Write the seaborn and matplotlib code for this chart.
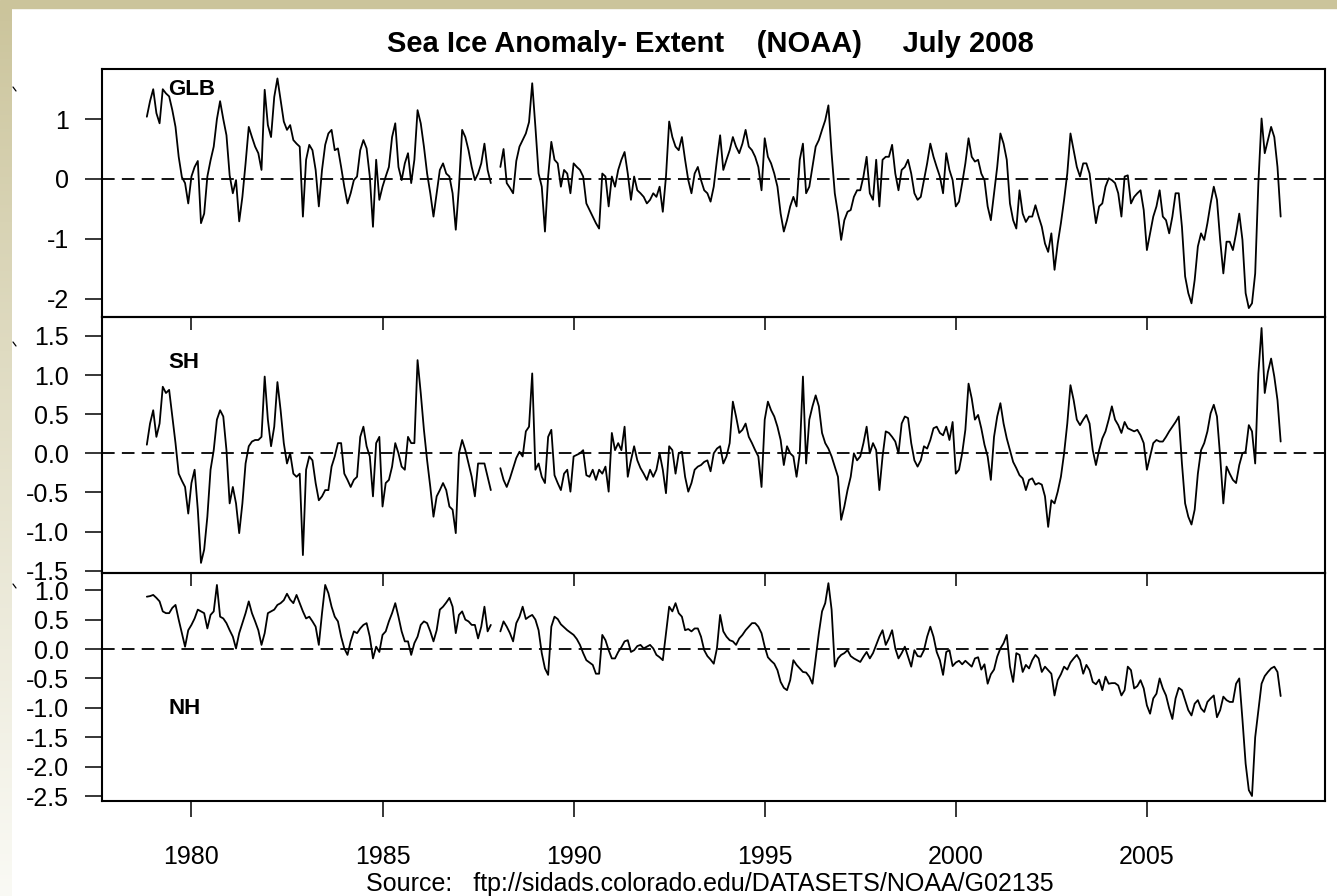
"""
Sea ice extent anomalies (NOAA), global / southern / northern hemisphere,
three stacked panels sharing one time axis.
"""

import numpy as np
import pandas as pd
import matplotlib
matplotlib.use("Agg")
import matplotlib.pyplot as plt
import seaborn as sns
from matplotlib.lines import Line2D
from matplotlib.patches import Rectangle

nan = np.nan

# monthly series start in Nov 1978, Dec 1987 / Jan 1988 missing
START_YEAR, START_MONTH = 1978, 11

GLB = [
    1.04, 1.30,
    1.50, 1.10, 0.93, 1.50, 1.43, 1.38, 1.15, 0.87, 0.37, 0.03, -0.07, -0.41,
    0.04, 0.20, 0.30, -0.74, -0.58, 0.04, 0.31, 0.54, 1.00, 1.30, 1.00, 0.73,
    0.06, -0.24, -0.02, -0.71, -0.30, 0.26, 0.87, 0.70, 0.54, 0.43, 0.15, 1.49,
    0.90, 0.70, 1.37, 1.68, 1.32, 0.96, 0.82, 0.90, 0.65, 0.59, 0.54, -0.63,
    0.32, 0.57, 0.48, 0.15, -0.46, 0.15, 0.57, 0.76, 0.82, 0.48, 0.51, 0.20,
    -0.13, -0.41, -0.24, -0.02, 0.04, 0.48, 0.65, 0.51, 0.04, -0.80, 0.32, -0.35,
    -0.13, 0.04, 0.20, 0.70, 0.93, 0.20, -0.02, 0.26, 0.43, -0.07, 0.32, 1.15,
    0.93, 0.54, 0.09, -0.24, -0.63, -0.24, 0.15, 0.26, 0.09, 0.04, -0.24, -0.85,
    -0.13, 0.82, 0.70, 0.48, 0.20, -0.02, 0.09, 0.26, 0.59, 0.15, -0.07, nan,
    nan, 0.20, 0.50, -0.07, -0.15, -0.24, 0.30, 0.54, 0.65, 0.76, 0.95, 1.60,
    0.87, 0.09, -0.13, -0.88, 0.04, 0.62, 0.32, 0.26, -0.13, 0.15, 0.09, -0.24,
    0.26, 0.20, 0.15, 0.04, -0.41, -0.52, -0.63, -0.74, -0.83, 0.09, 0.04, -0.46,
    0.04, -0.13, 0.15, 0.32, 0.45, 0.09, -0.35, 0.04, -0.19, -0.24, -0.30, -0.41,
    -0.35, -0.24, -0.30, -0.13, -0.55, 0.04, 0.96, 0.70, 0.54, 0.48, 0.70, 0.32,
    -0.02, -0.24, 0.09, 0.20, -0.02, -0.19, -0.24, -0.38, -0.13, 0.32, 0.73, 0.15,
    0.32, 0.48, 0.70, 0.54, 0.43, 0.59, 0.82, 0.54, 0.48, 0.37, 0.20, -0.19,
    0.68, 0.37, 0.26, 0.09, -0.13, -0.58, -0.88, -0.69, -0.46, -0.30, -0.46, 0.32,
    0.59, -0.24, -0.13, 0.20, 0.54, 0.65, 0.82, 0.98, 1.23, 0.43, -0.24, -0.58,
    -1.02, -0.69, -0.55, -0.52, -0.30, -0.19, -0.19, 0.04, 0.37, -0.24, -0.35, 0.32,
    -0.46, 0.32, 0.37, 0.37, 0.57, 0.09, -0.19, 0.15, 0.20, 0.32, 0.09, -0.24,
    -0.35, -0.30, -0.02, 0.26, 0.59, 0.37, 0.20, 0.04, -0.24, 0.43, 0.15, -0.02,
    -0.46, -0.38, -0.07, 0.26, 0.68, 0.37, 0.29, 0.32, 0.09, -0.02, -0.46, -0.69,
    -0.24, 0.20, 0.76, 0.59, 0.32, -0.41, -0.69, -0.83, -0.19, -0.58, -0.72, -0.63,
    -0.63, -0.44, -0.63, -0.80, -1.08, -1.22, -0.91, -1.52, -1.08, -0.74, -0.35, 0.09,
    0.76, 0.48, 0.20, 0.04, 0.26, 0.26, 0.09, -0.35, -0.74, -0.46, -0.41, -0.13,
    0.01, -0.02, -0.07, -0.24, -0.63, 0.04, 0.06, -0.41, -0.30, -0.24, -0.19, -0.52,
    -1.19, -0.91, -0.63, -0.46, -0.19, -0.63, -0.69, -0.91, -0.63, -0.24, -0.24, -0.80,
    -1.63, -1.91, -2.08, -1.69, -1.13, -0.91, -1.02, -0.74, -0.41, -0.13, -0.35, -1.02,
    -1.58, -1.05, -1.05, -1.19, -0.91, -0.58, -1.02, -1.91, -2.16, -2.08, -1.58, -0.07,
    1.01, 0.43, 0.65, 0.87, 0.70, 0.20, -0.63,
]

SH = [
    0.11, 0.38,
    0.55, 0.21, 0.38, 0.85, 0.77, 0.81, 0.47, 0.13, -0.26, -0.35, -0.43, -0.77,
    -0.38, -0.21, -0.72, -1.40, -1.23, -0.81, -0.21, 0.04, 0.43, 0.55, 0.47, 0.04,
    -0.64, -0.43, -0.64, -1.02, -0.64, -0.13, 0.09, 0.15, 0.17, 0.17, 0.21, 0.98,
    0.43, 0.09, 0.34, 0.91, 0.55, 0.13, -0.13, 0.00, -0.26, -0.30, -0.26, -1.30,
    -0.21, -0.04, -0.09, -0.38, -0.60, -0.55, -0.47, -0.47, -0.17, -0.04, 0.13, 0.13,
    -0.26, -0.34, -0.43, -0.34, -0.30, 0.21, 0.34, 0.09, -0.04, -0.55, 0.13, 0.21,
    -0.68, -0.38, -0.34, -0.17, 0.13, 0.00, -0.17, -0.21, 0.21, 0.13, 0.13, 1.19,
    0.77, 0.30, -0.09, -0.43, -0.81, -0.55, -0.47, -0.38, -0.47, -0.68, -0.72, -1.02,
    0.00, 0.17, 0.04, -0.13, -0.30, -0.55, -0.13, -0.13, -0.13, -0.30, -0.47, nan,
    nan, -0.19, -0.34, -0.43, -0.32, -0.19, -0.06, 0.02, -0.04, 0.28, 0.34, 1.02,
    -0.21, -0.13, -0.30, -0.38, 0.21, 0.30, -0.28, -0.38, -0.47, -0.26, -0.21, -0.49,
    -0.04, -0.02, 0.00, 0.04, -0.28, -0.30, -0.21, -0.34, -0.21, -0.26, -0.17, -0.49,
    0.26, 0.04, 0.13, 0.04, 0.34, -0.30, -0.09, 0.09, -0.09, -0.19, -0.26, -0.34,
    -0.21, -0.30, -0.21, 0.00, -0.21, -0.51, 0.09, 0.04, -0.26, 0.00, 0.02, -0.30,
    -0.49, -0.38, -0.21, -0.17, -0.15, -0.11, -0.09, -0.23, 0.00, 0.06, 0.09, -0.13,
    -0.04, 0.13, 0.66, 0.47, 0.26, 0.30, 0.38, 0.21, 0.13, 0.04, -0.04, -0.43,
    0.43, 0.66, 0.55, 0.47, 0.34, 0.17, -0.15, 0.09, 0.00, -0.04, -0.30, 0.00,
    0.98, -0.13, 0.43, 0.60, 0.74, 0.60, 0.26, 0.13, 0.06, -0.04, -0.17, -0.30,
    -0.85, -0.68, -0.47, -0.30, 0.00, -0.09, -0.04, 0.13, 0.34, 0.00, 0.13, 0.04,
    -0.47, -0.04, 0.28, 0.26, 0.21, 0.15, 0.00, 0.38, 0.47, 0.45, 0.13, -0.09,
    -0.17, -0.09, 0.09, 0.06, 0.17, 0.32, 0.34, 0.26, 0.23, 0.34, 0.17, 0.40,
    -0.26, -0.21, 0.00, 0.30, 0.89, 0.70, 0.43, 0.49, 0.32, 0.11, -0.04, -0.34,
    0.21, 0.47, 0.64, 0.38, 0.19, 0.04, -0.11, -0.19, -0.28, -0.32, -0.47, -0.34,
    -0.32, -0.40, -0.38, -0.40, -0.55, -0.94, -0.60, -0.64, -0.49, -0.30, 0.00, 0.38,
    0.87, 0.68, 0.43, 0.36, 0.43, 0.49, 0.38, 0.04, -0.15, 0.04, 0.19, 0.28,
    0.43, 0.60, 0.43, 0.36, 0.26, 0.40, 0.32, 0.30, 0.28, 0.30, 0.23, 0.13,
    -0.21, -0.04, 0.13, 0.17, 0.15, 0.15, 0.21, 0.28, 0.34, 0.40, 0.47, -0.13,
    -0.64, -0.81, -0.91, -0.72, -0.26, 0.04, 0.13, 0.28, 0.51, 0.62, 0.47, -0.04,
    -0.64, -0.17, -0.26, -0.34, -0.38, -0.15, 0.00, 0.02, 0.36, 0.28, -0.13, 1.02,
    1.60, 0.77, 1.04, 1.21, 0.98, 0.68, 0.15,
]

NH = [
    0.89, 0.90,
    0.92, 0.87, 0.81, 0.64, 0.61, 0.61, 0.70, 0.75, 0.50, 0.27, 0.04, 0.32,
    0.41, 0.52, 0.67, 0.64, 0.61, 0.35, 0.58, 0.64, 1.09, 0.55, 0.52, 0.44,
    0.32, 0.21, 0.01, 0.27, 0.44, 0.61, 0.81, 0.61, 0.47, 0.32, 0.07, 0.27,
    0.61, 0.64, 0.67, 0.75, 0.78, 0.83, 0.94, 0.84, 0.78, 0.92, 0.78, 0.64,
    0.52, 0.55, 0.47, 0.38, 0.07, 0.61, 1.09, 0.95, 0.72, 0.55, 0.47, 0.21,
    0.01, -0.10, 0.13, 0.30, 0.27, 0.35, 0.41, 0.44, 0.21, -0.16, 0.04, -0.05,
    0.24, 0.30, 0.47, 0.61, 0.78, 0.55, 0.30, 0.13, 0.13, -0.10, 0.10, 0.21,
    0.41, 0.47, 0.44, 0.30, 0.13, 0.32, 0.67, 0.72, 0.79, 0.87, 0.72, 0.27,
    0.58, 0.64, 0.50, 0.47, 0.41, 0.41, 0.18, 0.38, 0.72, 0.30, 0.41, nan,
    nan, 0.30, 0.47, 0.38, 0.27, 0.13, 0.44, 0.55, 0.72, 0.51, 0.55, 0.58,
    0.50, 0.32, -0.07, -0.33, -0.44, 0.38, 0.55, 0.51, 0.42, 0.37, 0.32, 0.28,
    0.24, 0.17, 0.07, -0.07, -0.19, -0.23, -0.27, -0.42, -0.42, 0.24, 0.15, -0.02,
    -0.16, -0.16, -0.05, 0.03, 0.13, 0.15, -0.05, -0.02, 0.05, 0.07, 0.01, 0.04,
    0.07, 0.01, -0.10, -0.14, -0.19, 0.27, 0.72, 0.64, 0.78, 0.61, 0.55, 0.32,
    0.34, 0.30, 0.35, 0.35, 0.21, -0.02, -0.12, -0.18, -0.25, 0.01, 0.58, 0.30,
    0.21, 0.15, 0.13, 0.07, 0.18, 0.24, 0.32, 0.38, 0.44, 0.44, 0.38, 0.27,
    0.04, -0.14, -0.20, -0.25, -0.36, -0.56, -0.66, -0.70, -0.53, -0.19, -0.27, -0.33,
    -0.39, -0.40, -0.47, -0.59, -0.16, 0.27, 0.64, 0.78, 1.12, 0.67, -0.30, -0.16,
    -0.10, -0.07, -0.02, -0.12, -0.16, -0.19, -0.22, -0.13, -0.05, -0.16, -0.07, 0.07,
    0.21, 0.32, 0.07, 0.18, 0.32, 0.01, -0.16, -0.07, 0.04, -0.13, -0.30, -0.02,
    -0.12, -0.13, -0.02, 0.21, 0.38, 0.21, -0.05, -0.19, -0.44, -0.05, -0.02, -0.29,
    -0.23, -0.20, -0.26, -0.20, -0.25, -0.30, -0.16, -0.14, -0.35, -0.26, -0.59, -0.43,
    -0.35, -0.13, 0.01, 0.10, 0.24, -0.30, -0.56, -0.07, -0.10, -0.39, -0.27, -0.33,
    -0.19, -0.10, -0.16, -0.39, -0.30, -0.36, -0.42, -0.79, -0.53, -0.43, -0.30, -0.35,
    -0.23, -0.16, -0.10, -0.19, -0.42, -0.27, -0.36, -0.56, -0.60, -0.52, -0.70, -0.47,
    -0.59, -0.58, -0.58, -0.62, -0.79, -0.70, -0.30, -0.36, -0.67, -0.63, -0.53, -0.67,
    -0.96, -1.10, -0.84, -0.76, -0.50, -0.67, -0.79, -1.01, -1.19, -0.84, -0.66, -0.70,
    -0.87, -1.04, -1.13, -0.93, -0.87, -1.01, -1.07, -0.90, -0.84, -0.79, -1.16, -1.04,
    -0.81, -0.87, -0.90, -0.90, -0.59, -0.50, -1.20, -1.95, -2.40, -2.50, -1.50, -1.05,
    -0.59, -0.46, -0.39, -0.33, -0.30, -0.39, -0.80,
]

PANEL_NAMES = ["GLB", "SH", "NH"]
SERIES = [GLB, SH, NH]
YTICKS = [
    [-2, -1, 0, 1],
    [-1.5, -1.0, -0.5, 0.0, 0.5, 1.0, 1.5],
    [-2.5, -2.0, -1.5, -1.0, -0.5, 0.0, 0.5, 1.0],
]
YFMT = ["{:.0f}", "{:.1f}", "{:.1f}"]
YLIMS = [(-2.309, 1.838), (-1.529, 1.741), (-2.585, 1.293)]
XTICKS = [1980, 1985, 1990, 1995, 2000, 2005]
XLIM = (1977.66, 2009.66)

TITLE = "Sea Ice Anomaly- Extent    (NOAA)     July 2008"
SOURCE = "Source:   ftp://sidads.colorado.edu/DATASETS/NOAA/G02135"

W, H = 1337, 896
TAN = np.array([203, 196, 155]) / 255.0

sns.set_theme(style="white")
plt.rcParams["font.family"] = ["Liberation Sans", "DejaVu Sans"]
plt.rcParams["axes.unicode_minus"] = False
plt.rcParams["text.color"] = "black"

fig = plt.figure(figsize=(W / 100, H / 100), dpi=100)
fig.patch.set_facecolor("white")

# slide decoration: tan band on top, fading strip on the left
fig.patches.append(Rectangle((0, 1 - 8 / H), 1, 8 / H, transform=fig.transFigure,
                             color=TAN, zorder=0))
strip = fig.add_axes([0, 0, 12 / W, 1 - 8 / H], zorder=0)
ramp = np.linspace(0, 1, 256) ** 0.9
grad = TAN[None, :] * (1 - ramp[:, None]) + np.array([0.98, 0.98, 0.96]) * ramp[:, None]
strip.imshow(grad[:, None, :], aspect="auto", extent=(0, 1, 0, 1))
strip.set_axis_off()

for yy in (89, 344, 586):
    fig.add_artist(Line2D([13 / W, 16 / W], [1 - (yy - 2) / H, 1 - (yy + 2) / H],
                          color="black", lw=0.9, transform=fig.transFigure))

# panel boxes in pixels: (top, bottom)
left_px, right_px = 102, 1325
boxes = [(69, 317), (317, 573), (573, 801)]
label_y = [90, 362, 708]

n = len(GLB)
t = START_YEAR + (START_MONTH - 1) / 12 + np.arange(n) / 12

for k, (name, vals) in enumerate(zip(PANEL_NAMES, SERIES)):
    top, bot = boxes[k]
    ax = fig.add_axes([left_px / W, 1 - bot / H, (right_px - left_px) / W, (bot - top) / H])
    ax.patch.set_visible(False)

    v = np.asarray(vals, dtype=float)
    df = pd.DataFrame({"t": t, "v": v, "seg": np.cumsum(np.isnan(v))})
    sns.lineplot(data=df, x="t", y="v", units="seg", estimator=None,
                 color="black", lw=1.3, ax=ax, legend=False)
    ax.axhline(0, color="black", lw=1.3, ls=(0, (7, 4)))

    ax.set_xlim(*XLIM)
    ax.set_ylim(*YLIMS[k])
    ax.set_yticks(YTICKS[k])
    ax.set_yticklabels([YFMT[k].format(y) for y in YTICKS[k]])
    ax.set_xticks(XTICKS)
    ax.set_xlabel("")
    ax.set_ylabel("")

    for sp in ax.spines.values():
        sp.set_visible(True)
        sp.set_color("black")
        sp.set_linewidth(1.5)

    ax.tick_params(axis="y", direction="out", length=12, width=1.1,
                   labelsize=18, pad=12, colors="black", left=True)
    if k < 2:
        ax.tick_params(axis="x", direction="out", length=9.5, width=1.1,
                       bottom=True, labelbottom=False, colors="black")
    else:
        ax.tick_params(axis="x", direction="out", length=11.5, width=1.1,
                       bottom=True, labelbottom=True, labelsize=18, pad=20,
                       colors="black")

    ax.text((168 - left_px) / (right_px - left_px), (bot - label_y[k]) / (bot - top),
            name, transform=ax.transAxes, fontsize=16, fontweight="bold",
            ha="left", va="center", color="black")

fig.text(710.5 / W, 1 - 52 / H, TITLE, ha="center", va="baseline",
         fontsize=21, fontweight="bold", color="black")
fig.text(710 / W, 1 - 891 / H, SOURCE, ha="center", va="baseline", fontsize=18,
         color="black")

fig.savefig("out.png", dpi=100)
